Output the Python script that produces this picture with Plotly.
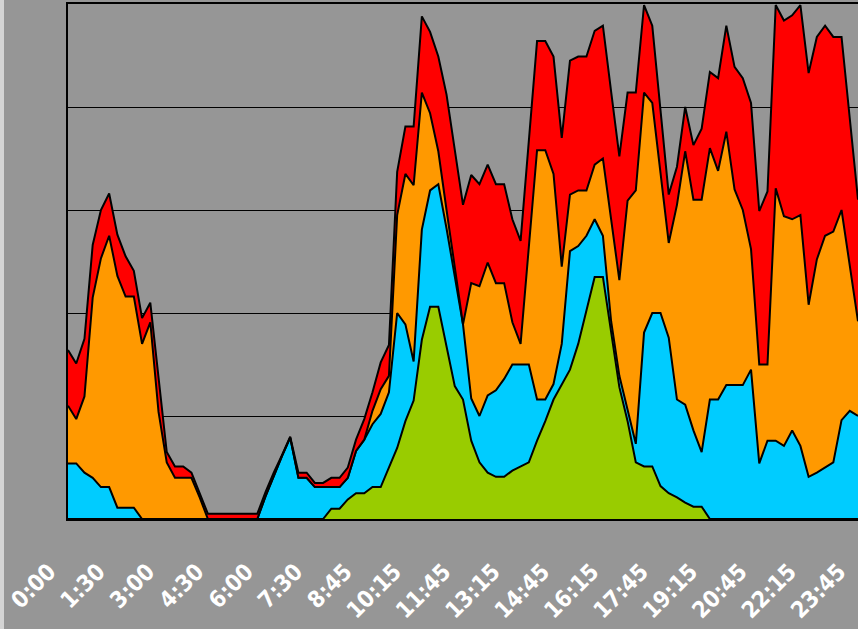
import plotly.graph_objects as go

# 15-minute slots (one duplicated slot between 7:30 and 8:45 in the source sheet)
slots = list(range(97))
tick_labels = ["0:00", "1:30", "3:00", "4:30", "6:00", "7:30", "8:45", "10:15", "11:45",
               "13:15", "14:45", "16:15", "17:45", "19:15", "20:45", "22:15", "23:45"]
tick_slots = slots[::6]

green = [0, 0, 0, 0, 0, 0, 0, 0, 0, 0,
         0, 0, 0, 0, 0, 0, 0, 0, 0, 0,
         0, 0, 0, 0, 0, 0, 0, 0, 0, 0,
         0, 0, 1.0, 1.0, 1.9, 2.5, 2.5, 3.1, 3.1, 5.0,
         6.9, 9.5, 11.5, 17.4, 20.6, 20.6, 16.8, 12.9, 11.6, 7.6,
         5.5, 4.5, 4.1, 4.1, 4.7, 5.1, 5.5, 7.6, 9.5, 11.6,
         13.1, 14.5, 17.0, 20.4, 23.5, 23.5, 17.9, 12.8, 9.5, 5.5,
         5.1, 5.1, 3.2, 2.5, 2.1, 1.6, 1.2, 1.2, 0, 0,
         0, 0, 0, 0, 0, 0, 0, 0, 0, 0,
         0, 0, 0, 0, 0, 0, 0]

cyan = [5.4, 5.4, 4.5, 4.0, 3.1, 3.1, 1.1, 1.1, 1.1, 0,
        0, 0, 0, 0, 0, 0, 0, 0, 0, 0,
        0, 0, 0, 0, 2.2, 4.2, 6.1, 7.9, 4.0, 4.0,
        3.1, 3.1, 2.1, 2.1, 2.1, 4.1, 5.2, 6.1, 7.1, 7.3,
        13.1, 9.4, 3.8, 10.7, 11.3, 11.9, 11.4, 10.7, 7.3, 4.1,
        4.5, 7.5, 8.4, 9.5, 10.3, 9.9, 9.5, 4.0, 2.1, 1.5,
        3.9, 11.5, 9.5, 7.1, 5.6, 4.0, 1.3, 1.1, 1.0, 1.8,
        13.0, 14.9, 16.8, 15.1, 9.5, 9.5, 7.4, 5.3, 11.6, 11.6,
        13.0, 13.0, 13.0, 14.5, 5.4, 7.6, 7.6, 7.1, 8.6, 7.1,
        4.1, 4.5, 5.0, 5.5, 9.6, 10.5, 10.0]

orange = [5.6, 4.3, 7.4, 17.5, 22.2, 24.4, 22.5, 20.5, 20.5, 17.0,
          19.1, 10.4, 5.5, 4.0, 4.0, 4.0, 2.1, 0, 0, 0,
          0, 0, 0, 0, 0, 0, 0, 0, 0, 0,
          0, 0, 0, 0, 0, 0, 0, 1.3, 2.4, 1.6,
          9.5, 14.6, 17.1, 13.3, 7.5, 3.2, 1.8, 0.9, 0, 11.2,
          12.6, 12.9, 10.4, 9.3, 4.1, 2.0, 11.4, 24.2, 24.2, 20.4,
          7.5, 5.5, 5.4, 4.4, 5.3, 7.5, 9.9, 9.3, 20.4, 24.6,
          23.3, 20.4, 13.6, 9.2, 18.9, 24.6, 22.4, 24.5, 24.4, 22.2,
          24.6, 19.0, 17.0, 11.7, 9.6, 7.4, 24.5, 22.3, 20.5, 22.4,
          16.7, 20.7, 22.5, 22.4, 20.4, 13.9, 9.2]

red = [5.4, 5.4, 5.6, 5.1, 4.7, 4.1, 4.0, 3.9, 2.5, 2.5,
       1.9, 3.5, 1.0, 1.1, 1.1, 0.5, 0.3, 0.5, 0.5, 0.5,
       0.5, 0.5, 0.5, 0.5, 0.4, 0.3, 0.1, 0.1, 0.5, 0.5,
       0.4, 0.4, 0.9, 0.9, 1.0, 1.1, 2.0, 1.8, 2.6, 3.0,
       4.2, 4.6, 5.7, 7.4, 7.9, 9.2, 11.2, 11.5, 11.6, 10.5,
       9.9, 9.5, 9.6, 9.6, 10.0, 10.0, 10.3, 10.6, 10.6, 11.4,
       12.5, 13.0, 13.0, 13.0, 13.0, 12.9, 12.4, 12.0, 10.5, 9.5,
       8.5, 7.5, 6.1, 4.7, 3.7, 4.3, 5.3, 6.9, 7.4, 9.0,
       10.3, 11.9, 12.8, 14.2, 14.9, 16.8, 17.8, 19.0, 19.8, 20.4,
       22.5, 21.6, 20.4, 18.9, 16.8, 14.6, 11.8]

series = [("green", green, "#99CC00"), ("cyan", cyan, "#00CCFF"),
          ("orange", orange, "#FF9900"), ("red", red, "#FF0000")]

fig = go.Figure()
for name, vals, col in series:
    fig.add_trace(go.Scatter(
        x=slots, y=vals, name=name, mode="lines", stackgroup="one",
        line=dict(color="black", width=2), fillcolor=col,
        hoverinfo="skip"))

BG = "#969696"
fig.update_layout(
    width=858, height=629,
    margin=dict(l=68, r=0, t=4, b=110, autoexpand=False),
    paper_bgcolor=BG, plot_bgcolor=BG,
    showlegend=False,
    xaxis=dict(range=[0, 96], tickmode="array", tickvals=tick_slots,
               ticktext=tick_labels, tickangle=-45, ticks="",
               showgrid=False, zeroline=False, showline=True, mirror=True,
               linecolor="black", linewidth=2, automargin=False,
               tickfont=dict(family="Liberation Sans Narrow, DejaVu Sans Condensed, sans-serif",
                             size=23, color="white", weight="bold"),
               ticklabelstandoff=28, ticklabelshift=-19),
    yaxis=dict(range=[0, 50], dtick=10, showticklabels=False, ticks="",
               showgrid=True, gridcolor="black", gridwidth=1, zeroline=False,
               showline=True, linecolor="black", linewidth=2, automargin=False),
    shapes=[dict(type="rect", xref="paper", yref="paper",
                 x0=-68 / 790, x1=-64 / 790, y0=-110 / 515, y1=519 / 515,
                 fillcolor="#D4D4D4", line=dict(width=0), layer="below")],
)

fig.write_html("out.html",
               config={"displayModeBar": False},
               post_script="document.body.style.margin='0';"
                           "document.body.style.background='#969696';")
